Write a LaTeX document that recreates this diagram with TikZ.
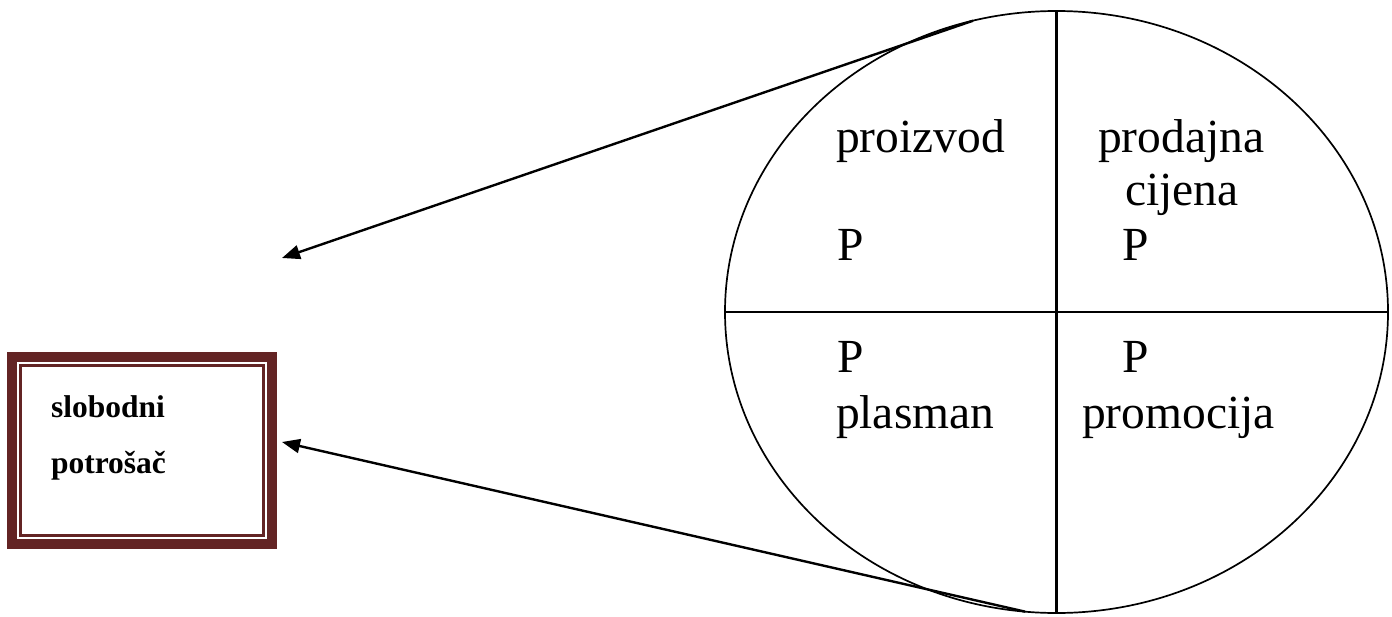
\documentclass[tikz,border=0pt]{standalone}
\usepackage{fontspec}
\setmainfont{Liberation Serif}
\usepackage{tikz}
\usetikzlibrary{positioning, arrows.meta, calc, shapes.geometric}
\definecolor{frameRed}{RGB}{99,36,36}
\definecolor{inkDark}{RGB}{0,0,0}

\begin{document}
\begin{tikzpicture}[
    x=1pt, y=-1pt,
    every node/.style={text=inkDark, inner sep=0pt, outer sep=0pt},
    mixlabel/.style={anchor=base west, font=\fontsize{47.5}{52}\selectfont},
    boxlabel/.style={anchor=base west, font=\bfseries\fontsize{31.5}{34}\selectfont},
    pointer/.style={line width=2.4pt, -{Triangle[length=18pt, width=14pt]}},
]
% Canvas: x in [0, 1392], y in [0, 616], y grows downwards
\useasboundingbox (0,0) rectangle (1392,616);

% --- Marketing-mix ellipse, split into four fields ---
\node[ellipse, draw, line width=1.7pt, minimum width=663pt, minimum height=602pt]
    (mix) at (1056.5, 312) {};
\draw[line width=2.2pt] (mix.north) -- (mix.south);
\draw[line width=2pt]   (mix.west)  -- (mix.east);

% --- Field labels ---
\node[mixlabel] (proizvod)  at (836,  152) {proizvod};
\node[mixlabel] (prodajna)  at (1098, 152) {prodajna};
\node[mixlabel] (cijena)    at (1125, 205) {cijena};
\node[mixlabel] (pOne)      at (837,  260) {P};
\node[mixlabel] (pTwo)      at (1122, 260) {P};
\node[mixlabel] (pThree)    at (837,  372) {P};
\node[mixlabel] (pFour)     at (1122, 372) {P};
\node[mixlabel] (plasman)   at (836,  428) {plasman};
\node[mixlabel] (promocija) at (1082, 428) {promocija};

% --- Consumer box: thick frame + thin inner line ---
\node[draw=frameRed, line width=10pt, minimum width=260pt, minimum height=187pt]
    (potrosac) at (142, 450.5) {};
\draw[frameRed, line width=2.5pt]
    ($(potrosac.north west)+(8.5,8.5)$) rectangle ($(potrosac.south east)+(-8.5,-8.5)$);

\node[boxlabel] (slobodni)   at (51, 417) {slobodni};
\node[boxlabel] (potrosacTx) at (51, 473) {potrošač};

% --- Pointers out of the ellipse ---
\coordinate (topTip) at (282, 258);
\coordinate (lowTip) at (282, 442);
\draw[pointer] (mix.106.4) -- (topTip);
\draw[pointer] (mix.-96)   -- (lowTip);

\end{tikzpicture}
\end{document}
